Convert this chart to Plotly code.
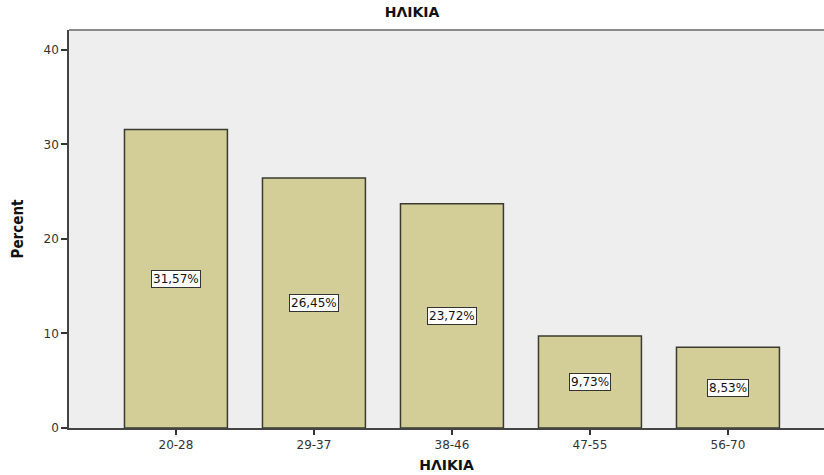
import plotly.graph_objects as go

categories = ["20-28", "29-37", "38-46", "47-55", "56-70"]
percent = [31.57, 26.45, 23.72, 9.73, 8.53]
labels = ["31,57%", "26,45%", "23,72%", "9,73%", "8,53%"]
y_ticks = [0, 10, 20, 30, 40]

fig = go.Figure()
fig.add_trace(go.Bar(
    x=list(range(len(categories))), y=percent,
    width=0.746,
    marker=dict(color="#D3CE97", line=dict(color="#3A3A30", width=1.5)),
    hoverinfo="skip",
))

for i, (v, t) in enumerate(zip(percent, labels)):
    fig.add_annotation(
        x=i, y=v / 2, text=t, showarrow=False,
        font=dict(family="DejaVu Sans", size=12, color="#111"),
        bgcolor="white", bordercolor="#333", borderwidth=1, borderpad=1,
    )

fig.add_shape(type="line", xref="paper", yref="paper", x0=0, x1=1, y0=1, y1=1,
              line=dict(color="#8A8A8A", width=2))

fig.update_layout(
    width=824, height=475,
    margin=dict(l=69, r=0, t=30, b=47),
    paper_bgcolor="white", plot_bgcolor="#EEEEEE",
    showlegend=False,
    title=dict(text="<b>ΗΛΙΚΙΑ</b>", x=0.5, xanchor="center", y=0.975, yanchor="middle",
               font=dict(family="DejaVu Sans", size=14, color="#111")),
    xaxis=dict(
        range=[-0.775, 4.696], tickmode="array",
        tickvals=list(range(len(categories))), ticktext=categories,
        ticks="outside", ticklen=5, tickcolor="#333", tickwidth=1.5,
        showline=True, linecolor="#444", linewidth=1.5, showgrid=False, zeroline=False,
        tickfont=dict(family="DejaVu Sans", size=12, color="#333"),
        title=dict(text="<b>ΗΛΙΚΙΑ</b>", standoff=9,
                   font=dict(family="DejaVu Sans", size=14, color="#111")),
    ),
    yaxis=dict(
        range=[0, 42.1], tickmode="array", tickvals=y_ticks,
        ticks="outside", ticklen=6, tickcolor="#333", tickwidth=1.5,
        showline=True, linecolor="#444", linewidth=1.5, showgrid=False, zeroline=False,
        tickfont=dict(family="DejaVu Sans", size=12, color="#333"),
        title=dict(text="<b>Percent</b>", standoff=16,
                   font=dict(family="DejaVu Sans Condensed", size=15, color="#111")),
    ),
)

fig.write_html("out.html")
